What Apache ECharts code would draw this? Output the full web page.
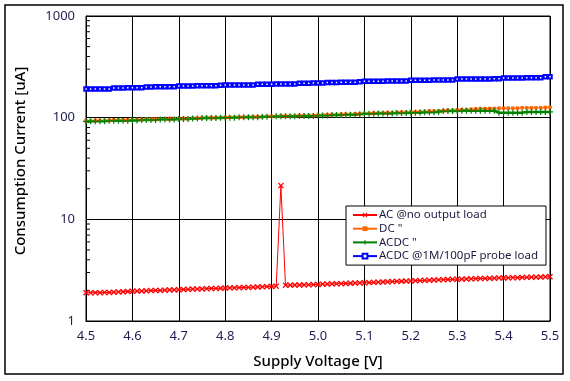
<!DOCTYPE html>
<html>
<head>
<meta charset="utf-8">
<script src="https://cdn.jsdelivr.net/npm/echarts@6/dist/echarts.min.js"></script>
<style>html,body{margin:0;padding:0;background:#fff;}#c{width:570px;height:381px;}</style>
</head>
<body>
<div id="c"></div>
<script>
const voltages = [4.50,4.51,4.52,4.53,4.54,4.55,4.56,4.57,4.58,4.59,
4.60,4.61,4.62,4.63,4.64,4.65,4.66,4.67,4.68,4.69,
4.70,4.71,4.72,4.73,4.74,4.75,4.76,4.77,4.78,4.79,
4.80,4.81,4.82,4.83,4.84,4.85,4.86,4.87,4.88,4.89,
4.90,4.91,4.92,4.93,4.94,4.95,4.96,4.97,4.98,4.99,
5.00,5.01,5.02,5.03,5.04,5.05,5.06,5.07,5.08,5.09,
5.10,5.11,5.12,5.13,5.14,5.15,5.16,5.17,5.18,5.19,
5.20,5.21,5.22,5.23,5.24,5.25,5.26,5.27,5.28,5.29,
5.30,5.31,5.32,5.33,5.34,5.35,5.36,5.37,5.38,5.39,
5.40,5.41,5.42,5.43,5.44,5.45,5.46,5.47,5.48,5.49,
5.50];

const acNoLoad = [1.90,1.90,1.90,1.90,1.91,1.91,1.92,1.93,1.94,1.95,
1.96,1.97,1.97,1.98,1.99,2.00,2.00,2.01,2.02,2.02,
2.03,2.04,2.05,2.06,2.06,2.07,2.08,2.09,2.09,2.10,
2.11,2.12,2.12,2.13,2.14,2.14,2.15,2.16,2.17,2.18,
2.19,2.20,21.5,2.25,2.25,2.26,2.26,2.27,2.27,2.28,
2.29,2.30,2.31,2.32,2.33,2.33,2.34,2.35,2.36,2.37,
2.38,2.39,2.40,2.41,2.42,2.43,2.44,2.45,2.46,2.47,
2.48,2.49,2.50,2.51,2.52,2.53,2.54,2.55,2.56,2.57,
2.57,2.58,2.59,2.60,2.61,2.62,2.62,2.63,2.64,2.65,
2.65,2.66,2.67,2.67,2.68,2.69,2.70,2.70,2.71,2.72,
2.73];

const dcNoLoad = [93,93,94,94,94,94,95,95,95,95,
96,96,96,97,97,97,97,97,98,98,
98,98,98,99,99,99,100,100,100,100,
100,101,101,101,101,102,102,102,102,103,
103,103,104,104,104,104,105,105,105,105,
106,106,107,107,107,108,108,108,109,109,
110,110,111,111,111,112,112,113,113,113,
114,114,115,115,116,116,117,117,118,118,
119,120,120,121,122,123,123,123,123,124,
124,124,124,124,125,125,125,125,125,126,
126];

const acdcNoLoad = [92,92,92,92,92,93,93,93,93,93,
94,94,95,95,95,95,96,96,96,96,
97,97,97,98,98,99,99,99,99,100,
100,100,100,101,101,101,101,101,102,102,
102,103,103,103,103,103,104,104,104,104,
105,105,105,106,106,106,107,107,107,108,
109,109,109,110,110,110,110,111,111,111,
112,112,112,113,113,113,114,116,116,116,
116,117,117,117,117,117,117,117,117,112,
112,112,112,112,112,114,114,114,114,114,
114];

const acdcProbe = [191,191,191,191,191,191,196,196,196,197,
197,197,197,200,200,201,201,201,201,201,
205,205,205,205,206,206,206,206,206,208,
209,209,209,210,210,210,210,213,213,213,
213,214,214,214,214,214,218,218,218,219,
219,219,222,222,222,223,223,223,223,225,
228,228,228,228,228,229,229,229,229,230,
234,234,234,234,234,235,235,235,235,235,
240,240,240,240,240,240,240,240,241,241,
246,246,246,246,246,247,247,247,247,252,
253];

const seriesNames = ['AC @no output load', 'DC "', 'ACDC "', 'ACDC @1M/100pF probe load'];
const yTickLabels = ['1', '10', '100', '1000'];
const minorTickValues = [2,3,4,5,6,7,8,9,20,30,40,50,60,70,80,90,200,300,400,500,600,700,800,900];

const pair = arr => voltages.map((v, i) => [v, arr[i]]);
const FONT = 'Noto Sans';
const LABEL_COLOR = '#1e1e55';

const xSym = 'path://M0,1.5L1.5,0L5,3.5L8.5,0L10,1.5L6.5,5L10,8.5L8.5,10L5,6.5L1.5,10L0,8.5L3.5,5Z';
const plusSym = 'path://M4,0H6V4H10V6H6V10H4V6H0V4H4Z';

const chart = echarts.init(document.getElementById('c'), null, {renderer: 'canvas'});
chart.setOption({
  animation: false,
  backgroundColor: '#fff',
  grid: {left: 86, right: 20, top: 16, bottom: 60, show: true, borderColor: '#000', borderWidth: 1},
  legend: {
    orient: 'vertical',
    left: 346, top: 206,
    data: seriesNames,
    backgroundColor: '#fff',
    borderColor: '#000', borderWidth: 1,
    padding: [3, 8, 3, 6],
    itemWidth: 24, itemHeight: 6, itemGap: 1.7,
    textStyle: {fontFamily: FONT, fontSize: 11.5, lineHeight: 11, color: '#1a1a40', padding: [0, 0, 0, -3]}
  },
  xAxis: {
    type: 'value', min: 4.5, max: 5.5, interval: 0.1,
    axisLine: {show: true, lineStyle: {color: '#000', width: 1}},
    axisTick: {show: false},
    splitLine: {show: true, lineStyle: {color: '#000', width: 1}},
    axisLabel: {fontFamily: FONT, fontSize: 13, color: LABEL_COLOR, margin: 9,
      formatter: v => v.toFixed(1)}
  },
  yAxis: {
    type: 'log', logBase: 10, min: 1, max: 1000,
    axisLine: {show: true, lineStyle: {color: '#000', width: 1}},
    axisTick: {show: false},
    splitLine: {show: true, lineStyle: {color: '#000', width: 1}},
    axisLabel: {fontFamily: FONT, fontSize: 13, color: LABEL_COLOR, margin: 11,
      formatter: v => yTickLabels[Math.round(Math.log10(v))]}
  },
  graphic: [
    {type: 'rect', shape: {x: 5, y: 5, width: 558, height: 369}, style: {fill: 'none', stroke: '#000', lineWidth: 1.5}, z: 100},
    {type: 'text', x: 318, y: 362, style: {text: 'Supply Voltage [V]', fontFamily: FONT, fontSize: 15, fontWeight: 500, fill: '#000', align: 'center', verticalAlign: 'middle'}},
    {type: 'text', x: 21, y: 161, rotation: Math.PI / 2, style: {text: 'Consumption Current [uA]', fontFamily: FONT, fontSize: 15, fontWeight: 500, fill: '#000', align: 'center', verticalAlign: 'middle'}}
  ],
  series: [
    {
      type: 'custom', name: 'minorTicks', silent: true, z: 1,
      data: minorTickValues.map(v => [4.5, v]),
      renderItem: (params, api) => {
        const p = api.coord([api.value(0), api.value(1)]);
        return {type: 'line', shape: {x1: p[0], y1: p[1], x2: p[0] + 4, y2: p[1]}, style: {stroke: '#000', lineWidth: 1}};
      }
    },
    {
      name: seriesNames[0], type: 'line', data: pair(acNoLoad),
      symbol: xSym, symbolSize: 6, showAllSymbol: true,
      lineStyle: {color: '#ff0000', width: 1}, itemStyle: {color: '#ff0000'}
    },
    {
      name: seriesNames[1], type: 'line', data: pair(dcNoLoad),
      symbol: 'rect', symbolSize: 3.5, showAllSymbol: true,
      lineStyle: {color: '#ff6600', width: 1}, itemStyle: {color: '#ff6600'}
    },
    {
      name: seriesNames[2], type: 'line', data: pair(acdcNoLoad),
      symbol: plusSym, symbolSize: 6, showAllSymbol: true,
      lineStyle: {color: '#008000', width: 2.5}, itemStyle: {color: '#008000'}
    },
    {
      name: seriesNames[3], type: 'line', data: pair(acdcProbe),
      symbol: 'emptyRect', symbolSize: 3.5, showAllSymbol: true,
      lineStyle: {color: '#0000ff', width: 1}, itemStyle: {color: '#0000ff', borderWidth: 1}
    }
  ]
});
</script>
</body>
</html>
